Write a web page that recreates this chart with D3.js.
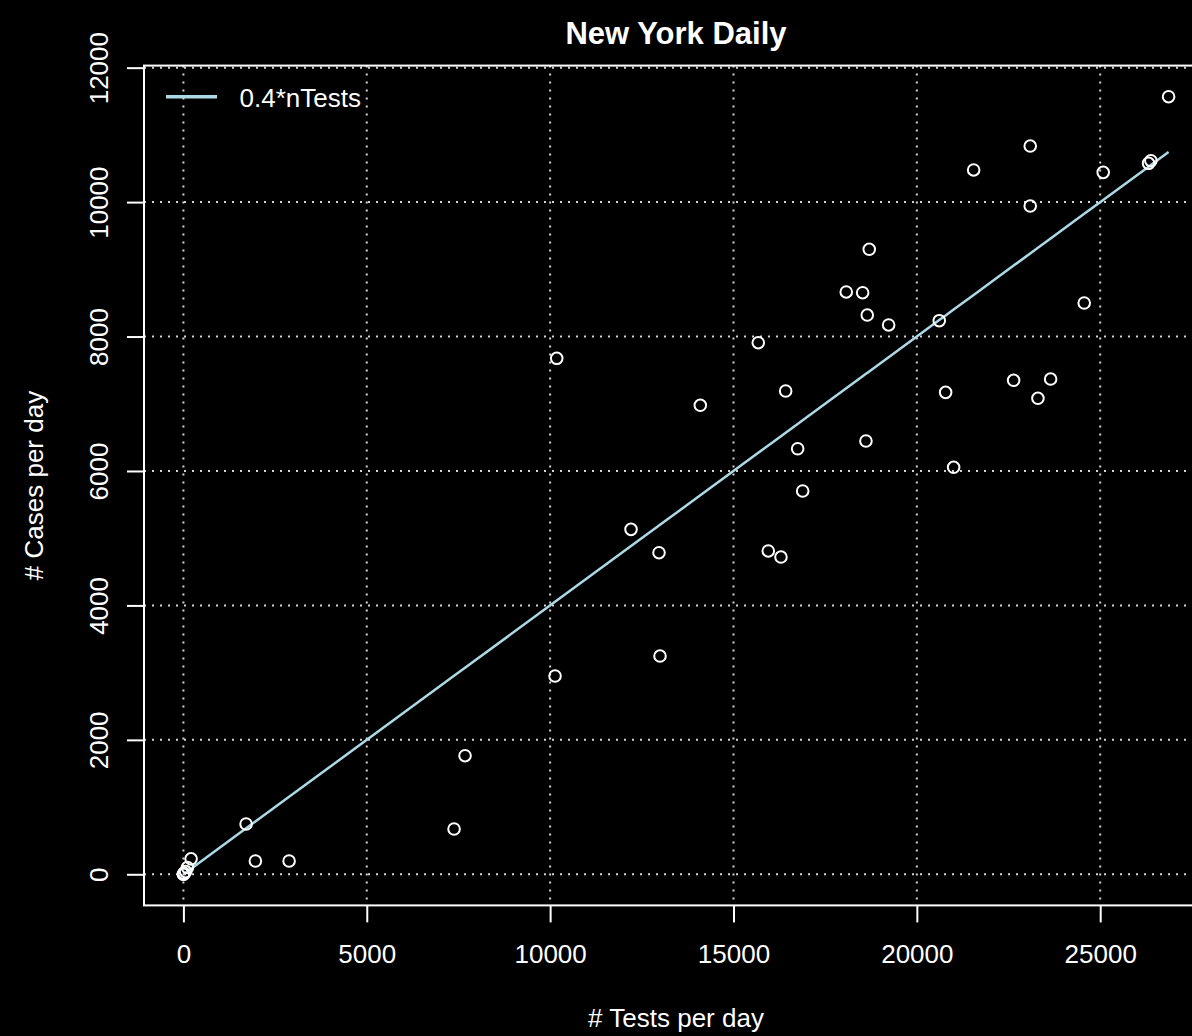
<!DOCTYPE html>
<html lang="en">
<head>
    <meta charset="UTF-8">
    <title>New York Daily</title>
    <script src="https://cdn.jsdelivr.net/npm/d3@7"></script>
    <style>
        html, body { margin: 0; background: #000; }
        svg { display: block; font-family: "Liberation Sans", Arial, sans-serif; }
    </style>
</head>
<body>
    <div id="container"></div>

    <script>
        const width = 1192;
        const height = 1036;

        // daily tests vs daily new cases
        const testsPerDay = [0, 5, 20, 60, 110, 210, 1709, 1963, 2882, 7380, 7680, 10134, 10180,
            12206, 12969, 12996, 14095, 15676, 16423, 16750, 16887, 15949, 16295, 18702, 18075,
            18522, 18648, 19231, 20611, 20785, 18612, 21003, 26865, 23092, 21549, 25082, 26382,
            26319, 23092, 24564, 22639, 23648, 23302];
        const casesPerDay = [0, 2, 15, 40, 100, 230, 748, 198, 198, 674, 1764, 2950, 7676,
            5132, 4784, 3247, 6977, 7908, 7190, 6331, 5702, 4810, 4720, 9298, 8663,
            8652, 8320, 8172, 8236, 7170, 6446, 6055, 11568, 10834, 10478, 10443, 10616,
            10577, 9942, 8499, 7349, 7368, 7081];

        const xTicks = [0, 5000, 10000, 15000, 20000, 25000];
        const yTicks = [0, 2000, 4000, 6000, 8000, 10000, 12000];
        const slope = 0.4;
        const legendLabel = "0.4*nTests";

        const box = { left: 144, right: 1208, top: 65.6, bottom: 905.4 };
        const fontSize = 26;

        // R style 4% padding on both ends
        const extend = ([a, b]) => [a - (b - a) * 0.04, b + (b - a) * 0.04];
        const x = d3.scaleLinear().domain(extend(d3.extent(testsPerDay))).range([box.left, box.right]);
        const y = d3.scaleLinear().domain(extend(d3.extent(casesPerDay))).range([box.bottom, box.top]);

        const points = testsPerDay.map((t, i) => ({ tests: t, cases: casesPerDay[i] }));

        const svg = d3.select('#container').append('svg')
            .attr('width', width)
            .attr('height', height)
            .style('background', '#000');

        // grid
        const grid = svg.append('g')
            .attr('stroke', '#d3d3d3')
            .attr('stroke-width', 2)
            .attr('stroke-dasharray', '2,6');
        grid.selectAll('line.gx')
            .data(xTicks)
            .join('line')
            .attr('class', 'gx')
            .attr('x1', d => x(d)).attr('x2', d => x(d))
            .attr('y1', box.top).attr('y2', box.bottom);
        grid.selectAll('line.gy')
            .data(yTicks)
            .join('line')
            .attr('class', 'gy')
            .attr('x1', box.left).attr('x2', box.right)
            .attr('y1', d => y(d)).attr('y2', d => y(d));

        // axes
        const xAxis = d3.axisBottom(x).tickValues(xTicks).tickSize(17).tickFormat(d3.format('d'));
        const yAxis = d3.axisLeft(y).tickValues(yTicks).tickSize(17).tickFormat(d3.format('d'));

        const gx = svg.append('g')
            .attr('transform', `translate(0,${box.bottom})`)
            .call(xAxis);
        const gy = svg.append('g')
            .attr('transform', `translate(${box.left},0)`)
            .call(yAxis);

        [gx, gy].forEach(g => {
            g.select('.domain').remove();
            g.selectAll('.tick line').attr('stroke', '#fff').attr('stroke-width', 2);
            g.selectAll('.tick text')
                .attr('fill', '#fff')
                .attr('font-size', fontSize)
                .attr('font-family', '"Liberation Sans", Arial, sans-serif');
        });
        gx.selectAll('.tick text').attr('dy', null).attr('y', 57.5);
        gy.selectAll('.tick text')
            .attr('x', null).attr('dy', null)
            .attr('text-anchor', 'middle')
            .attr('transform', `translate(${107.5 - box.left},0) rotate(-90)`);

        // plot box
        svg.append('rect')
            .attr('x', box.left).attr('y', box.top)
            .attr('width', box.right - box.left)
            .attr('height', box.bottom - box.top)
            .attr('fill', 'none')
            .attr('stroke', '#fff')
            .attr('stroke-width', 2);

        // reference line 0.4 * tests
        const sorted = points.slice().sort((a, b) => a.tests - b.tests);
        svg.append('path')
            .datum(sorted)
            .attr('fill', 'none')
            .attr('stroke', '#add8e6')
            .attr('stroke-width', 2.5)
            .attr('d', d3.line().x(d => x(d.tests)).y(d => y(slope * d.tests)));

        // points
        svg.append('g')
            .selectAll('circle')
            .data(points)
            .join('circle')
            .attr('cx', d => x(d.tests))
            .attr('cy', d => y(d.cases))
            .attr('r', 5.8)
            .attr('fill', 'none')
            .attr('stroke', '#fff')
            .attr('stroke-width', 2);

        // legend
        svg.append('line')
            .attr('x1', 166).attr('x2', 217)
            .attr('y1', 96.7).attr('y2', 96.7)
            .attr('stroke', '#add8e6')
            .attr('stroke-width', 3.5);
        svg.append('text')
            .attr('x', 239.5).attr('y', 106.5)
            .attr('fill', '#fff')
            .attr('font-size', fontSize)
            .text(legendLabel);

        // titles
        const mid = (box.left + box.right) / 2;
        svg.append('text')
            .attr('x', mid).attr('y', 44)
            .attr('text-anchor', 'middle')
            .attr('fill', '#fff')
            .attr('font-size', 31)
            .attr('font-weight', 'bold')
            .text('New York Daily');
        svg.append('text')
            .attr('x', mid).attr('y', 1026.5)
            .attr('text-anchor', 'middle')
            .attr('fill', '#fff')
            .attr('font-size', fontSize)
            .text('# Tests per day');
        svg.append('text')
            .attr('transform', `translate(43,${(box.top + box.bottom) / 2}) rotate(-90)`)
            .attr('text-anchor', 'middle')
            .attr('fill', '#fff')
            .attr('font-size', fontSize)
            .text('# Cases per day');
    </script>
</body>
</html>
